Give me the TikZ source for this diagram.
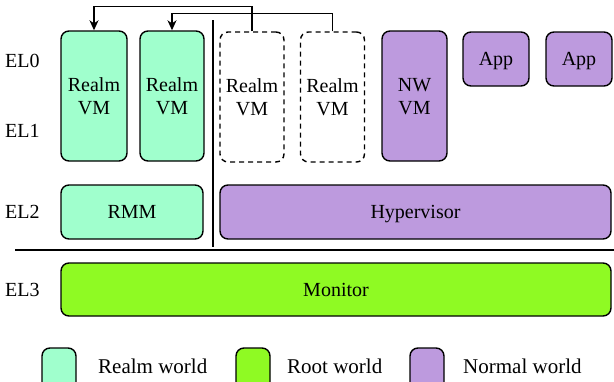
\documentclass[tikz,border=0pt]{standalone}
\usepackage{fontspec}
\setmainfont{Liberation Serif}
\usetikzlibrary{arrows.meta}
\definecolor{realmc}{RGB}{160,255,205}
\definecolor{rootc}{RGB}{143,250,35}
\definecolor{normc}{RGB}{189,154,222}
\tikzset{
  box/.style={draw=black, line width=1.4pt, rounded corners=8pt, align=center, inner sep=0pt, text depth=0pt, font=\fontsize{20}{23}\selectfont},
  vmbox/.style={box, minimum width=66pt, minimum height=130pt},
  dbox/.style={vmbox, dashed, dash pattern=on 5pt off 4pt},
  lab/.style={anchor=west, inner sep=0pt, font=\fontsize{20}{23}\selectfont},
  leglab/.style={anchor=west, inner sep=0pt, font=\fontsize{21}{24}\selectfont},
  arr/.style={line width=1.4pt, -{Stealth[length=10pt,width=9pt,inset=3pt]}},
  sep/.style={line width=1.4pt},
}
\begin{document}
\begin{tikzpicture}[x=1pt,y=-1pt]
\clip (0,0) rectangle (614,381);
\fill[white] (0,0) rectangle (614,381);
% EL labels
\node[lab] (el0) at (5,61) {EL0};
\node[lab] (el1) at (5,131) {EL1};
\node[lab] (el2) at (5,212) {EL2};
\node[lab] (el3) at (5,290) {EL3};
% VMs
\node[vmbox, fill=realmc] (vm1) at (94,96) {Realm\\VM};
\node[vmbox, fill=realmc, minimum width=64pt] (vm2) at (172,96) {Realm\\VM};
\node[dbox, minimum width=64pt] (vm3) at (252,97) {Realm\\VM};
\node[dbox, minimum width=64pt] (vm4) at (332.5,97) {Realm\\VM};
\node[vmbox, fill=normc, minimum width=65pt] (nwvm) at (414.5,96) {NW\\VM};
\node[box, fill=normc, minimum width=66pt, minimum height=54pt] (app1) at (496,59) {App};
\node[box, fill=normc, minimum width=66pt, minimum height=54pt] (app2) at (579,59) {App};
% EL2 / EL3
\node[box, fill=realmc, minimum width=142pt, minimum height=54pt] (rmm) at (132,212) {RMM};
\node[box, fill=normc, minimum width=391pt, minimum height=54pt] (hyp) at (415.5,212) {Hypervisor};
\node[box, fill=rootc, minimum width=550pt, minimum height=53pt] (mon) at (336,289.5) {Monitor};
% separators
\coordinate (vt) at (213,20);
\coordinate (vb) at (213,247);
\coordinate (hl) at (15,250);
\coordinate (hr) at (614,250);
\draw[sep] (vt) -- (vb);
\draw[sep] (hl) -- (hr);
% arrows
\draw[arr] (vm3.north) -- ++(0,-25) -| (vm1.north);
\draw[arr] (vm4.north) -- ++(0,-18) -| (vm2.north);
% legend
\draw[box, fill=realmc] (42,348) rectangle (76,392);
\node[leglab] (lg1) at (98,366) {Realm world};
\draw[box, fill=rootc] (236,348) rectangle (270,392);
\node[leglab] (lg2) at (287,366) {Root world};
\draw[box, fill=normc] (410,348) rectangle (444,392);
\node[leglab] (lg3) at (463,366) {Normal world};
\end{tikzpicture}
\end{document}
